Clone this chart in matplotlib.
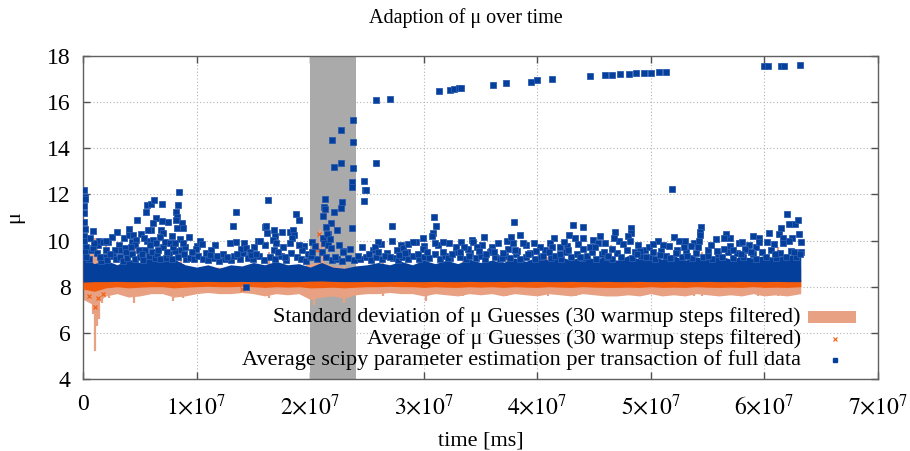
import numpy as np
import matplotlib
matplotlib.use("Agg")
import matplotlib.pyplot as plt

# ---------------- data (time in units of 1e6 ms) ----------------
t_band = [0, 1, 2, 3, 4, 5, 6, 7, 8, 9, 10, 11, 12, 13, 14, 15, 16, 17, 18, 19,
          20, 21, 22, 23, 24, 25, 26, 27, 28, 29, 30, 31, 32, 33, 34, 35, 36, 37, 38, 39,
          40, 41, 42, 43, 44, 45, 46, 47, 48, 49, 50, 51, 52, 53, 54, 55, 56, 57, 58, 59,
          60, 61, 62, 63.2]

# standard deviation band of mu guesses
std_lo = [7.45, 7.2, 7.6, 7.7, 7.55, 7.6, 7.7, 7.7, 7.55, 7.6, 7.7, 7.75, 7.7, 7.7, 7.75, 7.7,
          7.6, 7.7, 7.65, 7.7, 7.45, 7.55, 7.6, 7.5, 7.65, 7.7, 7.7, 7.75, 7.7, 7.7, 7.6, 7.7,
          7.65, 7.6, 7.7, 7.65, 7.7, 7.6, 7.7, 7.65, 7.6, 7.7, 7.65, 7.6, 7.7, 7.65, 7.6, 7.6,
          7.65, 7.6, 7.7, 7.6, 7.65, 7.6, 7.7, 7.65, 7.6, 7.65, 7.6, 7.7, 7.6, 7.65, 7.6, 7.7]
std_hi = [9.2, 9.0, 8.9, 8.9, 8.95, 9.0, 8.9, 8.85, 8.9, 8.85, 8.8, 8.8, 8.85, 8.8, 8.8, 8.85,
          8.9, 8.85, 8.8, 8.85, 9.0, 9.1, 8.9, 8.85, 8.8, 8.8, 8.85, 8.8, 8.85, 8.8, 8.9, 8.85,
          8.8, 8.85, 8.8, 8.85, 8.8, 8.9, 8.8, 8.85, 8.8, 8.85, 8.8, 8.85, 8.8, 8.85, 8.9, 8.8,
          8.85, 8.8, 8.85, 8.8, 8.85, 8.8, 8.9, 8.85, 8.8, 8.85, 8.8, 8.85, 8.8, 8.9, 8.85, 8.8]
# narrow spikes of the standard deviation band
spike_x = [0.4, 0.7, 0.9, 1.05, 1.2, 1.45, 1.7, 2.0, 2.3, 4.5, 4.6, 5.2, 7.9, 8.6, 8.8, 16.4,
           19.7, 20.3, 20.9, 21.1, 23.0, 26.4, 30.1, 30.2, 30.3, 33.5, 37.3, 40.9, 43.4, 46.5,
           53.8, 54.5, 56.1, 59.4, 61.2]
spike_lo = [7.4, 7.5, 6.8, 5.2, 6.3, 6.6, 7.3, 7.6, 7.5, 7.3, 7.6, 7.6, 7.4, 7.6, 7.5, 7.5,
            7.6, 7.2, 7.6, 7.6, 7.3, 7.6, 7.6, 7.4, 7.6, 7.6, 7.6, 7.6, 7.6, 7.6,
            7.6, 7.6, 7.6, 7.6, 7.6]
spike_hi = [9.3, 9.6, 9.5, 10.1, 9.8, 9.4, 9.2, 9.9, 9.0, 9.0, 9.8, 9.6, 8.9, 9.6, 9.0, 9.5,
            9.2, 9.0, 10.5, 9.8, 9.0, 9.4, 9.4, 9.0, 9.6, 9.25, 9.4, 9.3, 9.2, 9.8,
            9.2, 9.5, 9.2, 8.9, 9.7]

# dense average of mu guesses
avg_lo = [7.9, 7.8, 7.95, 8.0, 7.95, 7.98, 8.0, 8.0, 7.95, 7.98, 8.0, 8.02, 8.0, 8.0, 8.02, 8.0,
          7.97, 8.0, 7.98, 8.0, 7.95, 7.96, 7.98, 7.95, 7.98, 8.0, 8.0, 8.02, 8.0, 8.0, 7.97, 8.0,
          7.98, 7.97, 8.0, 7.98, 8.0, 7.97, 8.0, 7.98, 7.97, 8.0, 7.98, 7.97, 8.0, 7.98, 7.97, 7.97,
          7.98, 7.97, 8.0, 7.97, 7.98, 7.97, 8.0, 7.98, 7.97, 7.98, 7.97, 8.0, 7.97, 7.98, 7.97, 8.0]
avg_hi = [8.35, 8.3, 8.32, 8.3, 8.33, 8.32, 8.3, 8.32, 8.3, 8.31, 8.3, 8.3, 8.31, 8.3, 8.3, 8.31,
          8.3, 8.32, 8.3, 8.31, 8.35, 8.4, 8.32, 8.3, 8.31, 8.3, 8.32, 8.3, 8.31, 8.3, 8.33, 8.31,
          8.3, 8.33, 8.31, 8.3, 8.33, 8.3, 8.32, 8.3, 8.31, 8.3, 8.32, 8.3, 8.31, 8.32, 8.3, 8.31,
          8.32, 8.3, 8.31, 8.3, 8.32, 8.3, 8.31, 8.32, 8.3, 8.31, 8.3, 8.32, 8.3, 8.33, 8.31, 8.3]
avg_out_x = [0.5, 1.1, 1.3, 1.8, 2.2, 20.6, 20.7, 20.8, 20.9, 21.0, 21.1, 14.0, 37.3]
avg_out_y = [7.6, 7.1, 7.5, 7.7, 8.7, 9.6, 9.2, 10.3, 8.9, 9.4, 8.7, 7.9, 8.6]

# dense core of the scipy estimation (per time bin)
core_lo = [8.2, 8.22, 8.22, 8.23, 8.22, 8.22, 8.23, 8.22, 8.22, 8.23, 8.22, 8.23, 8.22, 8.22, 8.23, 8.22,
           8.22, 8.23, 8.22, 8.22, 8.24, 8.25, 8.23, 8.22, 8.22, 8.23, 8.22, 8.22, 8.23, 8.22, 8.22, 8.23,
           8.22, 8.22, 8.23, 8.22, 8.22, 8.23, 8.22, 8.22, 8.23, 8.22, 8.22, 8.23, 8.22, 8.22, 8.23, 8.22,
           8.22, 8.23, 8.22, 8.22, 8.23, 8.22, 8.22, 8.23, 8.22, 8.22, 8.23, 8.22, 8.22, 8.23, 8.22, 8.22]
core_hi = [9.25, 9.0, 9.15, 8.95, 9.2, 9.05, 9.3, 9.1, 9.2, 8.95, 8.85, 8.95, 8.8, 8.95, 8.9, 9.05,
           8.95, 9.1, 8.95, 9.0, 8.85, 9.05, 8.85, 8.8, 8.9, 8.95, 9.05, 8.95, 9.1, 8.95, 9.15, 9.0,
           9.15, 9.0, 9.2, 9.05, 9.15, 9.05, 9.25, 9.1, 9.3, 9.15, 9.3, 9.15, 9.35, 9.2, 9.3, 9.15,
           9.35, 9.2, 9.3, 9.2, 9.35, 9.15, 9.3, 9.2, 9.35, 9.2, 9.3, 9.25, 9.35, 9.25, 9.4, 9.3]

# individual scipy estimates outside the dense core
scipy_x = [0.1, 0.15, 0.1, 0.2, 0.1, 0.15, 0.1, 0.25, 0.2, 0.1, 0.3, 0.05,
           0.88, 1.76, 2.23, 2.58, 3.02, 3.17, 2.79, 3.38, 3.67, 4.05, 4.05, 4.4, 4.75, 4.7, 4.55,
           5.58, 5.66, 6.02, 6.25, 6.4, 6.16, 5.99, 5.72, 6.93, 6.99, 6.87, 7.04, 6.75, 7.48,
           8.42, 8.37, 8.16, 8.28, 8.16, 8.75, 8.28, 8.8, 8.57, 8.8, 9.3, 10.33, 10.45,
           13.44, 13.24, 13.44, 14.2, 14.38, 15.44, 14.38,
           6.16, 6.46, 5.87, 7.19, 7.69, 7.93, 8.07, 9.92, 10.86, 11.27, 11.15, 13.59, 14.68,
           14.82, 15.26, 1.2, 1.5, 2.0, 2.4, 3.8, 4.2, 4.9, 5.2, 5.4, 6.6, 7.4, 8.9, 9.6, 11.8,
           12.3, 12.7, 1.0, 0.6, 2.0, 16.0,
           16.31, 16.11, 16.17, 16.81, 16.9, 17.55, 18.22, 18.51, 18.6, 18.43, 18.22, 18.75,
           18.98, 15.58, 16.7, 16.84, 21.3, 21.22, 22.77, 22.74, 22.1, 21.16, 21.8, 21.36,
           23.65, 22.39, 21.54, 21.1, 21.22, 21.6, 20.45, 21.83, 22.86, 23.5, 24.18, 23.71,
           23.71, 24.77, 24.86, 24.74, 27.2, 25.94, 25.71, 27.2, 27.64, 27.85, 28.14, 28.49,
           28.64, 29.05, 28.38, 29.93, 29.9, 30.84, 30.93, 31.05, 30.96, 30.7,
           17.2, 17.8, 19.3, 19.8, 20.1, 22.2, 25.2, 26.0, 26.6, 27.0, 29.5, 30.3, 19.0, 17.0,
           23.8, 22.7, 21.9, 23.8, 22.7, 22.1, 23.8, 25.8, 24.9, 21.3, 21.5, 21.75, 20.2, 22.9,
           37.98, 35.3, 37.71, 38.47, 31.72, 33.28, 34.22, 34.36, 32.84, 33.54, 34.66, 34.89,
           35.92, 36.86, 37.89, 38.77, 39.71, 38.24, 37.45, 38.03, 41.12, 41.26, 41.06, 41.99,
           42.73, 42.38, 43.17, 44.05, 42.79, 43.32, 44.05, 44.93, 45.37, 45.08, 44.05, 46.84,
           46.75, 46.55, 31.66, 33.19, 32.17,
           32.5, 34.0, 35.5, 36.2, 37.0, 39.2, 39.9, 40.5, 42.0, 43.8, 45.9, 46.2,
           51.83, 48.25, 48.22, 47.98, 48.16, 47.57, 54.44, 54.32, 54.32, 54.24, 54.18, 52.5,
           53.0, 50.21, 51.62, 53.5, 56.61, 56.41, 56.97, 57.76, 58.0, 58.29, 59.02, 59.55,
           59.55, 60.43, 60.2, 61.98, 62.19, 62.69, 62.98, 61.49, 61.66, 61.6, 62.19, 63.22,
           55.79, 55.06, 56.44, 57.26, 49.04, 50.21, 50.8, 51.68,
           48.8, 49.6, 52.2, 53.2, 57.9, 58.8, 60.9, 62.6, 63.1,
           25.8, 27.0, 31.37, 32.3, 32.7, 33.1, 33.3, 36.07, 37.27, 39.45, 39.97, 41.3, 44.67,
           46.0, 46.6, 47.3, 48.1, 48.7, 49.4, 50.0, 50.7, 51.3, 60.0, 60.3, 61.5, 61.7, 63.1]
scipy_y = [12.2, 11.9, 11.5, 11.8, 10.8, 10.5, 10.2, 9.7, 9.5, 10.0, 9.3, 11.2,
           9.69, 9.95, 9.92, 10.14, 10.38, 9.81, 9.59, 9.59, 9.66, 10.51, 10.24, 10.24, 10.89, 10.02, 9.81,
           11.22, 11.54, 11.58, 11.76, 11.0, 10.75, 10.46, 10.46, 10.85, 11.58, 10.46, 10.31, 10.17, 10.79,
           12.1, 11.56, 11.22, 11.03, 10.88, 10.75, 10.56, 10.56, 10.07, 9.88, 10.14, 9.99, 9.85,
           11.22, 10.63, 9.92, 9.88, 9.68, 9.98, 8.0,
           10.02, 9.88, 9.81, 9.95, 9.88, 9.73, 9.91, 9.63, 9.45, 9.59, 9.37, 9.42, 9.52,
           9.37, 9.42, 9.45, 9.3, 9.6, 9.4, 9.5, 9.7, 9.6, 9.4, 10.1, 9.6, 9.5, 9.4, 9.5, 9.35,
           9.4, 9.3, 9.9, 10.1, 10.0, 10.59,
           11.76, 10.64, 10.31, 10.46, 10.21, 10.39, 10.39, 10.46, 10.24, 10.1, 9.88, 11.14,
           10.89, 9.98, 10.02, 9.59, 11.8, 11.47, 11.66, 11.4, 11.22, 11.08, 10.75, 10.6,
           10.54, 10.46, 10.27, 10.1, 9.88, 9.81, 9.76, 9.69, 9.56, 9.63, 9.33, 12.55,
           12.34, 12.6, 12.19, 11.73, 10.63, 9.92, 9.72, 9.99, 9.59, 9.37, 9.69, 9.52,
           9.85, 9.92, 9.44, 10.1, 9.63, 10.34, 11.01, 10.65, 9.88, 10.21,
           9.5, 9.3, 9.6, 9.4, 9.35, 9.3, 9.4, 9.5, 9.35, 9.3, 9.4, 9.5, 9.8, 9.9,
           15.23, 14.79, 14.36, 14.26, 13.36, 13.19, 13.15, 13.35, 12.2, 11.38, 10.28, 10.05, 9.49, 9.52,
           10.82, 10.17, 10.14, 10.24, 9.92, 9.95, 10.02, 9.92, 9.73, 9.71, 9.73, 9.55,
           9.56, 9.26, 9.88, 9.88, 9.88, 9.55, 9.63, 9.59, 9.91, 9.73, 9.52, 9.73,
           9.59, 9.95, 10.67, 10.6, 10.24, 10.1, 10.1, 10.02, 9.88, 9.73, 9.63, 10.36,
           10.1, 9.63, 9.52, 9.52, 9.23,
           9.4, 9.35, 9.4, 9.5, 9.45, 9.4, 9.55, 9.35, 9.4, 9.3, 9.5, 9.35,
           12.23, 10.53, 10.31, 10.2, 9.99, 9.84, 10.6, 10.39, 10.24, 9.99, 9.73, 9.98,
           9.98, 9.85, 9.76, 9.76, 10.27, 10.1, 9.78, 9.88, 9.92, 9.63, 10.2, 10.1,
           9.95, 10.31, 9.92, 11.15, 10.72, 10.72, 10.89, 10.56, 10.1, 9.88, 9.98, 9.95,
           9.55, 9.33, 9.63, 9.59, 9.56, 9.52, 9.37, 9.23,
           9.4, 9.3, 9.45, 9.35, 9.4, 9.5, 9.4, 9.5, 9.4,
           16.08, 16.15, 16.48, 16.54, 16.55, 16.61, 16.61, 16.76, 16.82, 16.87, 16.94, 16.99, 17.12,
           17.18, 17.18, 17.22, 17.22, 17.28, 17.28, 17.28, 17.32, 17.32, 17.55, 17.55, 17.58, 17.58, 17.62]

# further scipy estimates just above the dense core
scipy_near_x = [0.5, 0.7, 1.3, 1.6, 1.9, 2.1, 2.6, 2.9, 3.3, 3.5, 3.9, 4.3, 4.6, 5.0, 5.3, 5.5,
                5.8, 6.1, 6.3, 6.5, 6.8, 7.0, 7.3, 7.6, 7.8, 8.1, 8.4, 8.6, 9.1, 9.4, 9.8, 10.1,
                10.6, 11.0, 11.5, 12.0, 12.5, 13.0, 13.3, 13.8, 14.1, 14.5, 15.0, 15.5, 15.9, 16.5,
                16.9, 17.4, 17.9, 18.3, 18.8, 19.2, 19.6, 20.0, 20.6, 21.0, 21.4, 21.9, 22.4, 22.8,
                23.3, 23.9, 24.4, 24.9, 25.4, 25.8, 26.3, 26.8, 27.3, 27.7, 28.1, 28.6, 29.1, 29.6,
                30.0, 30.5, 31.0, 31.4, 31.9, 32.3, 32.8, 33.2, 33.7, 34.1, 34.6, 35.0, 35.4, 35.8,
                36.3, 36.7, 37.2, 37.6, 38.1, 38.5, 39.0, 39.4, 39.8, 40.3, 40.7, 41.2, 41.6, 42.1,
                42.5, 43.0, 43.5, 43.9, 44.4, 44.8, 45.2, 45.7, 46.1, 46.6, 47.0, 47.4, 47.9, 48.3,
                48.6, 49.1, 49.5, 50.0, 50.4, 50.9, 51.3, 51.8, 52.3, 52.7, 53.1, 53.6, 54.0, 54.6,
                55.0, 55.4, 55.9, 56.3, 56.8, 57.2, 57.6, 58.1, 58.5, 59.0, 59.3, 59.8, 60.1, 60.6,
                61.0, 61.4, 61.9, 62.3, 62.8, 63.2,
                0.9, 1.4, 3.6, 4.3, 5.1, 5.6, 7.8, 9.0, 10.0, 11.6, 12.9, 13.9, 15.1, 16.0, 17.6,
                19.5, 20.2, 22.5, 24.6, 25.5, 26.2, 28.0, 29.3, 30.0, 31.3, 32.2, 33.9, 35.1, 36.0,
                36.5, 37.3, 39.0, 40.2, 41.5, 42.6, 43.6, 44.6, 45.5, 46.0, 47.2, 48.9, 49.8, 50.6,
                51.1, 52.0, 52.9, 53.8, 55.3, 55.7, 57.0, 58.6, 59.3, 60.8, 61.3, 62.4, 63.0]
scipy_near_y = [9.2, 9.6, 9.8, 9.1, 9.3, 9.15, 9.35, 9.2, 9.3, 9.1, 9.25, 9.4, 9.2, 9.3, 9.15, 9.6,
                9.35, 9.5, 9.25, 9.4, 9.2, 9.7, 9.25, 9.4, 9.2, 9.55, 9.3, 9.6, 9.2, 9.25, 9.2, 9.35,
                9.2, 9.15, 9.25, 9.1, 9.2, 9.15, 9.35, 9.2, 9.45, 9.25, 9.2, 9.35, 9.15, 9.3,
                9.2, 9.35, 9.15, 9.45, 9.3, 9.2, 9.1, 9.3, 9.2, 9.5, 9.3, 9.15, 9.2, 9.1,
                9.25, 9.15, 9.2, 9.3, 9.15, 9.3, 9.2, 9.45, 9.25, 9.15, 9.3, 9.2, 9.35, 9.2,
                9.3, 9.25, 9.4, 9.2, 9.35, 9.25, 9.5, 9.3, 9.2, 9.45, 9.25, 9.35, 9.2, 9.5,
                9.3, 9.2, 9.35, 9.25, 9.4, 9.2, 9.3, 9.45, 9.2, 9.3, 9.6, 9.25, 9.35, 9.2,
                9.5, 9.3, 9.4, 9.25, 9.35, 9.5, 9.2, 9.4, 9.3, 9.2, 9.45, 9.3, 9.6, 9.25,
                9.5, 9.35, 9.6, 9.3, 9.2, 9.55, 9.35, 9.25, 9.6, 9.3, 9.5, 9.25, 9.45, 9.3,
                9.6, 9.2, 9.4, 9.3, 9.5, 9.25, 9.45, 9.3, 9.6, 9.4, 9.2, 9.5, 9.3, 9.6,
                9.25, 9.45, 9.3, 9.55, 9.3, 9.5,
                10.4, 10.0, 10.1, 9.95, 10.3, 10.0, 10.2, 9.7, 9.75, 9.8, 9.9, 9.65, 9.7, 9.8, 9.7,
                9.75, 9.95, 9.8, 9.7, 9.6, 9.85, 9.8, 9.95, 9.75, 9.8, 9.9, 9.65, 9.8, 9.7,
                9.9, 10.0, 9.8, 9.7, 10.1, 9.75, 9.85, 9.7, 10.2, 9.9, 10.0, 9.8, 9.7, 10.0,
                9.8, 10.15, 9.7, 9.9, 9.8, 10.05, 10.1, 9.8, 9.7, 9.85, 10.3, 10.1, 10.3]

x_ticks = [0, 1e7, 2e7, 3e7, 4e7, 5e7, 6e7, 7e7]
x_ticklabels = ["0", r"$1{\times}10^{7}$", r"$2{\times}10^{7}$", r"$3{\times}10^{7}$",
                r"$4{\times}10^{7}$", r"$5{\times}10^{7}$", r"$6{\times}10^{7}$", r"$7{\times}10^{7}$"]
y_ticks = [4, 6, 8, 10, 12, 14, 16, 18]
highlight = (2.0e7, 2.4e7)

legend_labels = ["Standard deviation of \u03bc Guesses (30 warmup steps filtered)",
                 "Average of \u03bc Guesses (30 warmup steps filtered)",
                 "Average scipy parameter estimation per transaction of full data"]

# ---------------- plotting ----------------
plt.rcParams["font.family"] = ["Liberation Serif", "DejaVu Serif"]
plt.rcParams["mathtext.fontset"] = "stix"
FS_TICK = 17
FS_LEG = 16
FS_LAB = 16
FS_TITLE = 14.5

C_STD = "#e8a182"
C_AVG = "#f25a0c"
C_BLUE = "#053f9c"

fig = plt.figure(figsize=(9.10, 4.51), dpi=100)
ax = fig.add_axes([83 / 910, 1 - 379 / 451, 795 / 910, 323 / 451])

MS = 1e6
tb = np.array(t_band) * MS

ax.axvspan(highlight[0], highlight[1], color="#aaaaaa", zorder=1, lw=0)

ax.fill_between(tb, std_lo, std_hi, color=C_STD, lw=0, zorder=2)
ax.vlines(np.array(spike_x) * MS, spike_lo, spike_hi, color=C_STD, lw=1.6, zorder=2)
ax.fill_between(tb, avg_lo, avg_hi, color=C_AVG, lw=0, zorder=3)
ax.plot(np.array(avg_out_x) * MS, avg_out_y, ls="none", marker="x", ms=3, mew=0.8,
        color=C_AVG, zorder=3)
ax.fill_between(tb, core_lo, core_hi, color=C_BLUE, lw=0, zorder=4)
ax.plot(np.array(scipy_near_x) * MS, scipy_near_y, ls="none", marker="s", ms=4.3, mew=0.6,
        color=C_BLUE, mec="#2a5cb0", zorder=5)
ax.plot(np.array(scipy_x) * MS, scipy_y, ls="none", marker="s", ms=4.3, mew=0.6,
        color=C_BLUE, mec="#2a5cb0", zorder=5)

ax.set_xlim(0, 7e7)
ax.set_ylim(4, 18)
ax.set_xticks(x_ticks)
ax.set_xticklabels(x_ticklabels)
ax.set_yticks(y_ticks)
ax.tick_params(direction="in", length=5, width=1, color="#505050", top=True, right=True,
               labelsize=FS_TICK)
ax.tick_params(axis="x", pad=11)
ax.tick_params(axis="y", pad=9)
for s in ax.spines.values():
    s.set_color("#606060")
    s.set_linewidth(1.0)
ax.set_axisbelow(True)
ax.grid(True, color="#b4b4b4", ls=(0, (1, 2)), lw=0.8, zorder=0)

ax.set_xlabel("time [ms]", fontsize=FS_LAB, labelpad=8)
ax.set_ylabel("\u03bc", fontsize=FS_LAB, labelpad=16)
fig.text(466 / 910, 1 - 18 / 451, "Adaption of \u03bc over time", fontsize=FS_TITLE,
         ha="center", va="center")

# legend (gnuplot-style: right aligned text, sample on the right)
tr = ax.transAxes
ly = [0.192, 0.124, 0.058]
tx = 0.903
for lab, yy in zip(legend_labels, ly):
    ax.text(tx, yy, lab, transform=tr, ha="right", va="center", fontsize=FS_LEG, zorder=10)
ax.add_patch(plt.Rectangle((0.912, ly[0] - 0.02), 0.06, 0.04, transform=tr,
                           color=C_STD, lw=0, zorder=10))
ax.plot([0.946], [ly[1]], transform=tr, marker="x", ms=3, mew=0.8, color=C_AVG, zorder=10)
ax.plot([0.946], [ly[2]], transform=tr, marker="s", ms=3.5, color=C_BLUE, zorder=10)

fig.savefig("out.png", dpi=100)
